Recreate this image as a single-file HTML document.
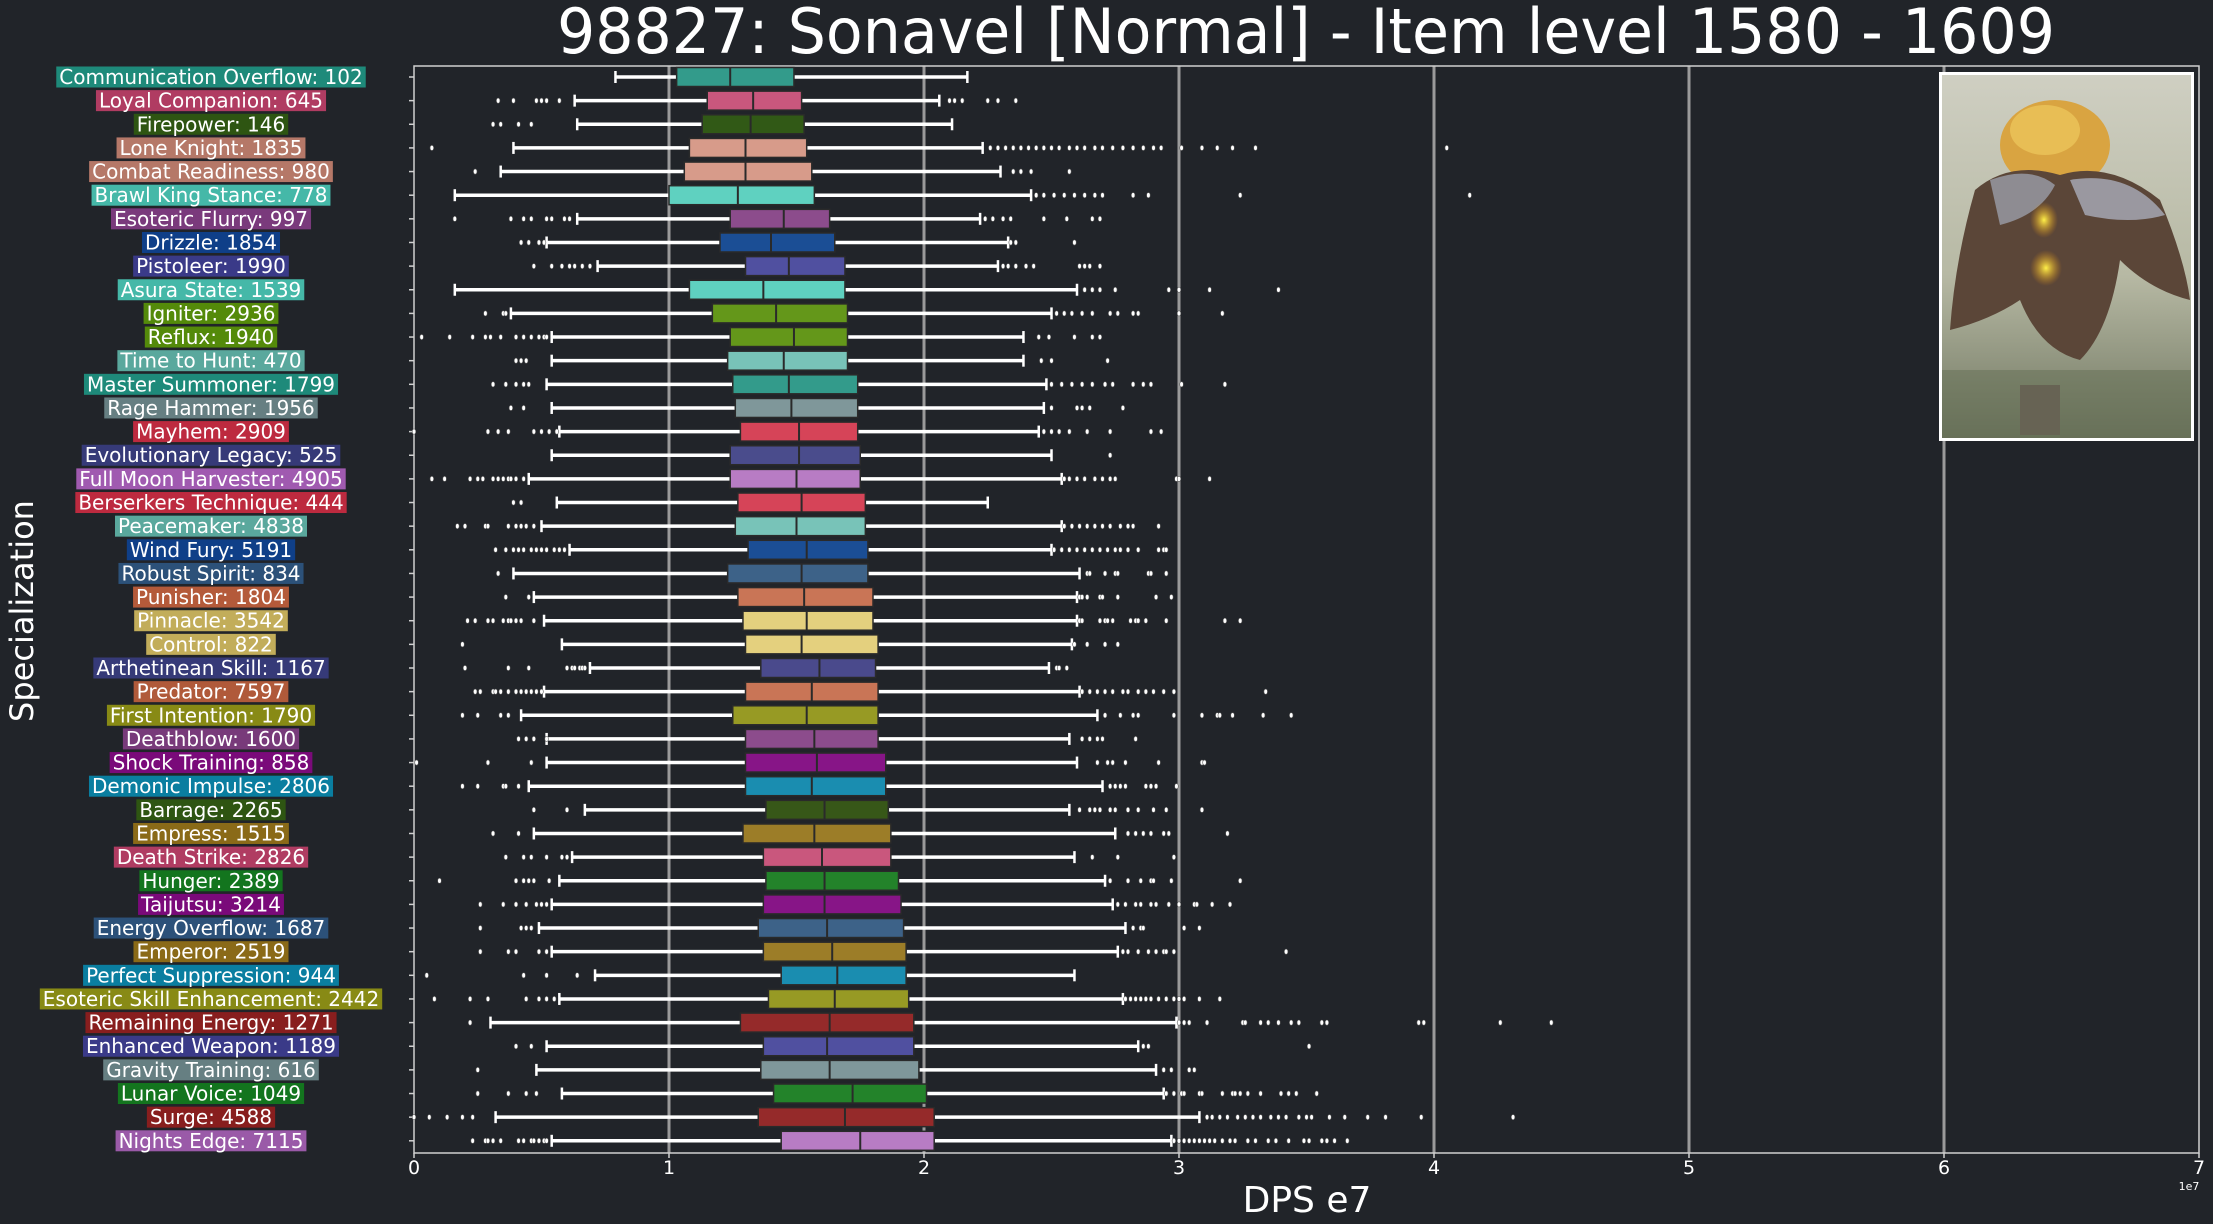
<!DOCTYPE html>
<html><head><meta charset="utf-8"><title>Sonavel DPS</title>
<style>html,body{margin:0;padding:0;background:#212429;}svg{display:block;}</style></head>
<body>
<svg id="chart" xmlns="http://www.w3.org/2000/svg" width="2213" height="1224" viewBox="0 0 2213 1224" font-family="'DejaVu Sans','Liberation Sans',sans-serif">
<rect width="2213" height="1224" fill="#212429"/>
<text x="1306" y="53" fill="#ffffff" font-size="62" text-anchor="middle" textLength="1498" lengthAdjust="spacingAndGlyphs">98827: Sonavel [Normal] - Item level 1580 - 1609</text>
<text transform="translate(33,611) rotate(-90)" fill="#ffffff" font-size="32" text-anchor="middle">Specialization</text>
<text x="1307" y="1212" fill="#ffffff" font-size="36" text-anchor="middle">DPS e7</text>
<text x="2189" y="1190" fill="#ffffff" font-size="11" text-anchor="middle">1e7</text>
<g id="grid"></g>
<g id="plot"></g>
<g id="labels"></g>
<g id="xticks"></g>
<g>
  <defs>
    <linearGradient id="sky" x1="0" y1="0" x2="0" y2="1">
      <stop offset="0" stop-color="#cfcfc2"/><stop offset="0.55" stop-color="#b7b9a4"/><stop offset="1" stop-color="#6f7660"/>
    </linearGradient>
    <radialGradient id="glow" cx="0.5" cy="0.5" r="0.5">
      <stop offset="0" stop-color="#fff14a"/><stop offset="1" stop-color="#e08a10" stop-opacity="0"/>
    </radialGradient>
  </defs>
  <rect x="1939" y="72" width="255" height="369" fill="#ffffff"/>
  <rect x="1942" y="75" width="249" height="363" fill="url(#sky)"/>
  <ellipse cx="2055" cy="145" rx="55" ry="45" fill="#d9a441"/>
  <ellipse cx="2045" cy="130" rx="35" ry="25" fill="#e8be55"/>
  <path d="M1975 190 Q2010 160 2060 175 Q2110 160 2160 200 Q2185 260 2190 300 Q2150 290 2120 260 Q2110 330 2080 360 Q2040 350 2020 300 Q1990 320 1950 330 Q1955 260 1975 190Z" fill="#5b4638"/>
  <path d="M1990 180 Q2030 165 2055 185 Q2040 215 2000 225Z" fill="#8e8c92"/>
  <path d="M2070 180 Q2130 170 2165 215 Q2130 225 2085 215Z" fill="#9a98a0"/>
  <ellipse cx="2044" cy="220" rx="14" ry="18" fill="url(#glow)"/>
  <ellipse cx="2046" cy="268" rx="16" ry="18" fill="url(#glow)"/>
  <rect x="2020" y="385" width="40" height="50" fill="#6e5d58"/>
  <rect x="1942" y="370" width="249" height="68" fill="#5f6a50" opacity="0.45"/>
</g>
</svg>
<script>
var names=["Communication Overflow","Loyal Companion","Firepower","Lone Knight","Combat Readiness","Brawl King Stance","Esoteric Flurry","Drizzle","Pistoleer","Asura State","Igniter","Reflux","Time to Hunt","Master Summoner","Rage Hammer","Mayhem","Evolutionary Legacy","Full Moon Harvester","Berserkers Technique","Peacemaker","Wind Fury","Robust Spirit","Punisher","Pinnacle","Control","Arthetinean Skill","Predator","First Intention","Deathblow","Shock Training","Demonic Impulse","Barrage","Empress","Death Strike","Hunger","Taijutsu","Energy Overflow","Emperor","Perfect Suppression","Esoteric Skill Enhancement","Remaining Energy","Enhanced Weapon","Gravity Training","Lunar Voice","Surge","Nights Edge"];
var counts=[102,645,146,1835,980,778,997,1854,1990,1539,2936,1940,470,1799,1956,2909,525,4905,444,4838,5191,834,1804,3542,822,1167,7597,1790,1600,858,2806,2265,1515,2826,2389,3214,1687,2519,944,2442,1271,1189,616,1049,4588,7115];
var whiskerLow=[0.79,0.63,0.64,0.39,0.34,0.16,0.64,0.52,0.72,0.16,0.38,0.54,0.54,0.52,0.54,0.57,0.54,0.45,0.56,0.50,0.61,0.39,0.47,0.51,0.58,0.69,0.51,0.42,0.52,0.52,0.45,0.67,0.47,0.62,0.57,0.54,0.49,0.54,0.71,0.57,0.30,0.52,0.48,0.58,0.32,0.54];
var q1=[1.03,1.15,1.13,1.08,1.06,1.00,1.24,1.20,1.30,1.08,1.17,1.24,1.23,1.25,1.26,1.28,1.24,1.24,1.27,1.26,1.31,1.23,1.27,1.29,1.30,1.36,1.30,1.25,1.30,1.30,1.30,1.38,1.29,1.37,1.38,1.37,1.35,1.37,1.44,1.39,1.28,1.37,1.36,1.41,1.35,1.44];
var medians=[1.24,1.33,1.32,1.30,1.30,1.27,1.45,1.40,1.47,1.37,1.42,1.49,1.45,1.47,1.48,1.51,1.51,1.50,1.52,1.50,1.54,1.52,1.53,1.54,1.52,1.59,1.56,1.54,1.57,1.58,1.56,1.61,1.57,1.60,1.61,1.61,1.62,1.64,1.66,1.65,1.63,1.62,1.63,1.72,1.69,1.75];
var q3=[1.49,1.52,1.53,1.54,1.56,1.57,1.63,1.65,1.69,1.69,1.70,1.70,1.70,1.74,1.74,1.74,1.75,1.75,1.77,1.77,1.78,1.78,1.80,1.80,1.82,1.81,1.82,1.82,1.82,1.85,1.85,1.86,1.87,1.87,1.90,1.91,1.92,1.93,1.93,1.94,1.96,1.96,1.98,2.01,2.04,2.04];
var whiskerHigh=[2.17,2.06,2.11,2.23,2.30,2.42,2.22,2.33,2.29,2.60,2.50,2.39,2.39,2.48,2.47,2.45,2.50,2.54,2.25,2.54,2.50,2.61,2.60,2.60,2.58,2.49,2.61,2.68,2.57,2.60,2.70,2.57,2.75,2.59,2.71,2.74,2.79,2.76,2.59,2.78,2.99,2.84,2.91,2.94,3.08,2.97];
var outliers=[
[],
[0.33,0.39,0.48,0.50,0.52,0.57,2.10,2.12,2.15,2.25,2.29,2.36],
[0.31,0.34,0.41,0.46],
[0.07,2.26,2.29,2.32,2.35,2.38,2.41,2.44,2.47,2.50,2.53,2.57,2.60,2.63,2.67,2.70,2.74,2.78,2.82,2.86,2.90,2.93,3.01,3.09,3.15,3.21,3.30,4.05],
[0.24,2.35,2.38,2.42,2.57],
[2.44,2.47,2.51,2.55,2.59,2.63,2.67,2.70,2.82,2.88,3.24,4.14],
[0.16,0.38,0.43,0.46,0.52,0.54,0.59,0.61,2.24,2.27,2.31,2.34,2.47,2.56,2.66,2.69],
[0.42,0.45,0.49,0.51,2.34,2.36,2.59],
[0.47,0.54,0.58,0.61,0.63,0.66,0.69,2.31,2.33,2.36,2.40,2.43,2.61,2.63,2.65,2.69],
[2.63,2.66,2.69,2.75,2.96,3.00,3.12,3.39],
[0.28,0.35,0.36,2.52,2.55,2.58,2.62,2.66,2.73,2.76,2.82,2.84,3.00,3.17],
[0.03,0.14,0.23,0.28,0.30,0.34,0.40,0.43,0.46,0.49,0.51,0.52,2.45,2.49,2.59,2.66,2.69],
[0.40,0.42,0.44,2.46,2.50,2.72],
[0.31,0.36,0.40,0.43,0.45,2.50,2.54,2.58,2.62,2.66,2.71,2.74,2.82,2.86,2.89,3.01,3.18],
[0.38,0.43,2.50,2.60,2.62,2.65,2.78],
[0.00,0.29,0.33,0.37,0.47,0.50,0.53,0.56,2.47,2.50,2.53,2.57,2.64,2.73,2.89,2.93],
[2.73],
[0.07,0.12,0.22,0.25,0.27,0.31,0.33,0.35,0.37,0.38,0.40,0.43,2.55,2.57,2.60,2.63,2.67,2.70,2.73,2.75,2.99,3.00,3.12],
[0.39,0.42],
[0.17,0.20,0.28,0.29,0.37,0.40,0.42,0.44,0.47,2.55,2.58,2.61,2.64,2.67,2.70,2.73,2.77,2.80,2.82,2.92],
[0.32,0.36,0.39,0.41,0.43,0.46,0.48,0.50,0.52,0.55,0.57,0.59,2.51,2.54,2.57,2.60,2.63,2.66,2.69,2.72,2.75,2.77,2.80,2.84,2.92,2.94,2.95],
[0.33,2.64,2.65,2.71,2.75,2.76,2.88,2.89,2.95],
[0.36,0.45,2.61,2.62,2.64,2.69,2.70,2.76,2.91,2.97],
[0.21,0.24,0.29,0.31,0.35,0.37,0.38,0.40,0.42,0.47,2.61,2.62,2.69,2.71,2.72,2.74,2.81,2.83,2.84,2.87,2.95,3.18,3.24],
[0.19,2.59,2.64,2.71,2.76],
[0.20,0.37,0.45,0.60,0.62,0.63,0.65,0.66,0.67,2.52,2.53,2.56],
[0.24,0.26,0.31,0.32,0.34,0.37,0.40,0.42,0.44,0.46,0.48,0.50,2.62,2.65,2.68,2.71,2.74,2.78,2.80,2.84,2.87,2.90,2.94,2.98,3.34],
[0.19,0.25,0.34,0.37,2.71,2.77,2.82,2.84,2.98,3.09,3.15,3.16,3.21,3.33,3.44],
[0.41,0.44,0.47,0.52,2.62,2.65,2.68,2.70,2.83],
[0.01,0.29,0.46,2.68,2.72,2.74,2.79,2.92,3.09,3.10],
[0.19,0.25,0.35,0.36,0.41,2.73,2.75,2.77,2.79,2.87,2.89,2.91,2.99],
[0.47,0.60,2.61,2.65,2.67,2.69,2.73,2.75,2.80,2.84,2.90,2.95,3.09],
[0.31,0.41,2.80,2.83,2.86,2.89,2.94,2.96,3.19],
[0.36,0.43,0.46,0.52,0.58,0.60,2.66,2.76,2.98],
[0.10,0.40,0.43,0.45,0.47,0.53,2.73,2.80,2.85,2.89,2.90,2.97,3.24],
[0.26,0.35,0.40,0.44,0.48,0.50,0.52,2.76,2.79,2.83,2.85,2.89,2.91,2.96,3.00,3.06,3.07,3.13,3.20],
[0.26,0.42,0.44,0.46,2.82,2.85,2.86,3.02,3.08],
[0.26,0.37,0.40,0.49,0.52,2.78,2.80,2.84,2.88,2.91,2.94,2.95,2.98,3.42],
[0.05,0.43,0.52,0.64],
[0.08,0.22,0.29,0.44,0.49,0.52,0.55,2.79,2.81,2.83,2.85,2.87,2.89,2.92,2.95,2.98,3.00,3.02,3.08,3.16],
[0.22,3.00,3.02,3.04,3.11,3.25,3.26,3.32,3.35,3.39,3.44,3.47,3.56,3.58,3.94,3.96,4.26,4.46],
[0.40,0.46,2.86,2.88,3.51],
[0.25,2.94,2.97,3.04,3.06],
[0.25,0.37,0.44,0.48,2.95,2.98,3.01,3.02,3.08,3.09,3.17,3.21,3.22,3.24,3.27,3.32,3.40,3.43,3.46,3.54],
[0.00,0.06,0.13,0.19,0.23,3.11,3.13,3.16,3.19,3.23,3.26,3.29,3.32,3.36,3.39,3.42,3.47,3.50,3.52,3.59,3.65,3.74,3.81,3.95,4.31],
[0.23,0.28,0.29,0.31,0.34,0.41,0.43,0.46,0.47,0.49,0.51,0.52,2.98,3.00,3.02,3.04,3.06,3.08,3.10,3.12,3.14,3.17,3.20,3.22,3.27,3.30,3.35,3.38,3.43,3.49,3.51,3.56,3.58,3.61,3.66]
];
var xTickValues=[0,1,2,3,4,5,6,7];
var xTickLabels=["0","1","2","3","4","5","6","7"];

var boxColors=["#339b8b","#c9577d","#315916","#d79b8a","#d79b8a","#5fd1c0","#8c4c8c","#1b4e95","#5050a0","#5fd1c0","#64971a","#64971a","#78c3b8","#339b8b","#7f979a","#d64458","#4a4c8c","#b87cc4","#d64458","#78c3b8","#1b4e95","#3d6288","#c97556","#e4d07e","#e4d07e","#4a4a8c","#c97556","#979a24","#8c4c8c","#871587","#1a8db0","#375718","#9c7d28","#c9577d","#23832a","#871587","#3d6288","#9c7d28","#1a8db0","#979a24","#952a2a","#5050a0","#7f979a","#23832a","#952a2a","#b87cc4"];
var labelColors=["#1e8a7a","#b03c62","#2e5512","#b57868","#b57868","#45b8a8","#7a3a7c","#0f3f88","#3a3a88","#45b8a8","#548a0a","#548a0a","#5aa89d","#1e8a7a","#667f82","#bd2a3f","#363a78","#a05ab0","#bd2a3f","#5aa89d","#0f3f88","#2c5179","#b45a3a","#c2ad5a","#c2ad5a","#363a78","#b05a3a","#888a15","#783a7a","#7a0a7a","#0a7ea0","#2e5512","#8a6a18","#b03c62","#13751e","#7a0a7a","#2c5179","#8a6a18","#0a7ea0","#888a15","#881e1e","#3a3a88","#667f82","#13751e","#881e1e","#9a5aa8"];

var NS="http://www.w3.org/2000/svg";
var L=414,R=2199,T=66,B=1153;
function X(v){return L+v*(R-L)/7;}
function Y(i){return 77+i*23.64;}
function mk(tag,attrs,parent){var e=document.createElementNS(NS,tag);for(var k in attrs)e.setAttribute(k,attrs[k]);parent.appendChild(e);return e;}

var grid=document.getElementById('grid'),plot=document.getElementById('plot'),labs=document.getElementById('labels'),xt=document.getElementById('xticks');
for(var g=1;g<7;g++){
  var gl=mk('line',{x1:X(xTickValues[g]),x2:X(xTickValues[g]),y1:T,y2:B,stroke:'#9a9a9a','stroke-width':3},grid);
  
  
}
var fr=mk('rect',{x:L,y:T,width:R-L,height:B-T,fill:'none',stroke:'#d0d0d0','stroke-width':1.5},grid);


for(var t=0;t<xTickValues.length;t++){
  var tx=X(xTickValues[t]);
  var tm=mk('line',{x1:tx,x2:tx,y1:B,y2:B+5,stroke:'#d0d0d0','stroke-width':1.5},xt);
  
  
  var tl=mk('text',{x:tx,y:1174,fill:'#ffffff','font-size':19,'text-anchor':'middle'},xt);
  tl.textContent=xTickLabels[t];
  
  
}
for(var i=0;i<names.length;i++){
  var y=Y(i),h=19;
  var grp=mk('g',{},plot);
  
  
  var ytm=mk('line',{x1:L-5,x2:L,y1:y,y2:y,stroke:'#d0d0d0','stroke-width':1.5},grp);
  
  
  var w1=mk('line',{x1:X(whiskerLow[i]),x2:X(q1[i]),y1:y,y2:y,stroke:'#ffffff','stroke-width':3.5},grp);
  
  
  var w2=mk('line',{x1:X(q3[i]),x2:X(whiskerHigh[i]),y1:y,y2:y,stroke:'#ffffff','stroke-width':3.5},grp);
  
  
  var c1=mk('line',{x1:X(whiskerLow[i]),x2:X(whiskerLow[i]),y1:y-6,y2:y+6,stroke:'#ffffff','stroke-width':2.5},grp);
  
  
  var c2=mk('line',{x1:X(whiskerHigh[i]),x2:X(whiskerHigh[i]),y1:y-6,y2:y+6,stroke:'#ffffff','stroke-width':2.5},grp);
  
  
  var bx=mk('rect',{x:X(q1[i]),y:y-h/2,width:X(q3[i])-X(q1[i]),height:h,fill:boxColors[i],stroke:'#2a2a2a','stroke-width':1.5},grp);
  
  
  var md=mk('line',{x1:X(medians[i]),x2:X(medians[i]),y1:y-h/2,y2:y+h/2,stroke:'#2a2a2a','stroke-width':2},grp);
  
  
  var o=outliers[i];
  for(var j=0;j<o.length;j++){
    var pt=mk('ellipse',{cx:X(o[j]),cy:y,rx:1.8,ry:2.6,fill:'#ffffff',stroke:'#555','stroke-width':0.6},grp);
    
    
  }
  var lt=mk('text',{x:211,y:y+7,fill:'#ffffff','font-size':20,'text-anchor':'middle'},labs);
  lt.textContent=names[i]+': '+counts[i];
  
  
  var wd=lt.getComputedTextLength();
  var lr=document.createElementNS(NS,'rect');
  lr.setAttribute('x',211-wd/2-3);lr.setAttribute('y',y-10.5);lr.setAttribute('width',wd+6);lr.setAttribute('height',21);lr.setAttribute('fill',labelColors[i]);
  
  
  labs.insertBefore(lr,lt);
}
</script>
</body></html>
